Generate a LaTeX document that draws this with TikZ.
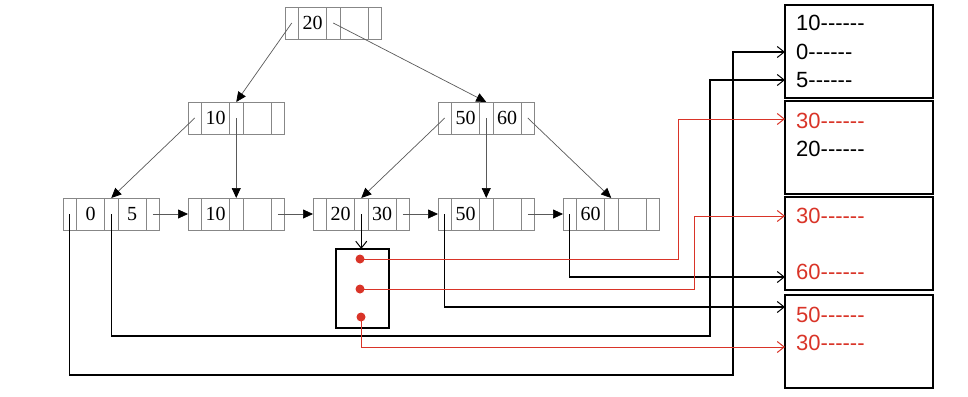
\documentclass[tikz,border=0pt]{standalone}
\usepackage{fontspec}
\setmainfont{Liberation Serif}
\newfontfamily\boxfont{Liberation Sans}
\usetikzlibrary{arrows.meta}
\definecolor{myred}{RGB}{217,52,40}
\definecolor{cellgray}{RGB}{135,135,135}
\newcommand{\bnode}[5]{%
  \node[ptrcell] (#1p1) at (#2,#3) {};
  \node[keycell] (#1k1) at (#1p1.east) {#4};
  \node[ptrcell] (#1p2) at (#1k1.east) {};
  \node[keycell] (#1k2) at (#1p2.east) {#5};
  \node[ptrcell] (#1p3) at (#1k2.east) {};
}
\begin{document}
\begin{tikzpicture}[x=1pt,y=-1pt,
  cell/.style={draw=cellgray, line width=0.8pt, inner sep=0pt, outer sep=0pt,
    minimum height=32pt, anchor=west, font=\fontsize{20}{20}\selectfont},
  ptrcell/.style={cell, minimum width=13.5pt},
  keycell/.style={cell, minimum width=28pt},
  treeedge/.style={draw=gray!70!black, line width=0.7pt,
    -{Triangle[length=10pt,width=9pt,color=black]}},
  dataptr/.style={draw=black, line width=1.2pt,
    -{Straight Barb[length=7pt,width=11pt,line width=1pt]}},
  redptr/.style={draw=myred, line width=1pt,
    -{Straight Barb[length=7pt,width=11pt,line width=1pt]}},
  recbox/.style={draw=black, line width=1.4pt, inner sep=0pt, outer sep=0pt,
    minimum width=148pt, minimum height=93pt, anchor=north west},
  rectext/.style={font=\boxfont\fontsize{22}{22}\selectfont, anchor=west, inner sep=0pt},
  dot/.style={circle, fill=myred, inner sep=0pt, minimum size=9pt}
]
\useasboundingbox (0,0) rectangle (968,396);

% tree nodes
\bnode{r}{285}{23}{20}{}
\bnode{a}{188}{118}{10}{}
\bnode{b}{438}{118}{50}{60}
\bnode{la}{63}{214}{0}{5}
\bnode{lb}{188}{214}{10}{}
\bnode{lc}{313}{214}{20}{30}
\bnode{ld}{438}{214}{50}{}
\bnode{le}{563}{214}{60}{}

% tree edges
\draw[treeedge] (rp1.center) -- (ap2.north);
\draw[treeedge] (rp2.center) -- (bp2.north);
\draw[treeedge] (ap1.center) -- (lap2.north);
\draw[treeedge] (ap2.center) -- (lbp2.north);
\draw[treeedge] (bp1.center) -- (lcp2.north);
\draw[treeedge] (bp2.center) -- (ldp2.north);
\draw[treeedge] (bp3.center) -- (lep2.north);

% leaf chain
\draw[treeedge] (lap3.center) -- (lbp1.west);
\draw[treeedge] (lbp3.center) -- (lcp1.west);
\draw[treeedge] (lcp3.center) -- (ldp1.west);
\draw[treeedge] (ldp3.center) -- (lep1.west);

% record boxes
\node[recbox] (b1) at (785,5) {};
\node[recbox] (b2) at (785,101) {};
\node[recbox] (b3) at (785,197) {};
\node[recbox] (b4) at (785,295) {};

\node[rectext] (t10) at (796,23) {10------};
\node[rectext] (t0) at (796,52) {0------};
\node[rectext] (t5) at (796,80) {5------};
\node[rectext, text=myred] (t30a) at (796,121) {30------};
\node[rectext] (t20) at (796,149) {20------};
\node[rectext, text=myred] (t30b) at (796,216) {30------};
\node[rectext, text=myred] (t60) at (796,272) {60------};
\node[rectext, text=myred] (t50) at (796,315) {50------};
\node[rectext, text=myred] (t30c) at (796,343) {30------};

% bucket
\node[draw=black, line width=1.1pt, inner sep=0pt, outer sep=0pt,
  minimum width=53pt, minimum height=79pt, anchor=north west] (bucket) at (336,249) {};
\node[dot] (d1) at (360,259) {};
\node[dot] (d2) at (360,289) {};
\node[dot] (d3) at (361,317) {};

% arrow ends
\coordinate (e0) at (785,52);
\coordinate (e5) at (785,80);
\coordinate (e30a) at (785,119);
\coordinate (e30b) at (785,216);
\coordinate (e60) at (785,277);
\coordinate (e50) at (785,307);
\coordinate (e30c) at (785,347);

% data pointers
\draw[dataptr, line width=1pt] (lcp2.center) -- (lcp2.center |- bucket.north);
\draw[dataptr] (lap1.center) |- (733,375) |- (e0);
\draw[dataptr] (lap2.center) |- (710,336) |- (e5);
\draw[dataptr] (lep1.center) |- (e60);
\draw[dataptr] (ldp1.center) |- (e50);

\draw[redptr] (d1.center) -| (678,119) -- (e30a);
\draw[redptr] (d2.center) -| (694,216) -- (e30b);
\draw[redptr] (d3.center) |- (e30c);
\end{tikzpicture}
\end{document}
